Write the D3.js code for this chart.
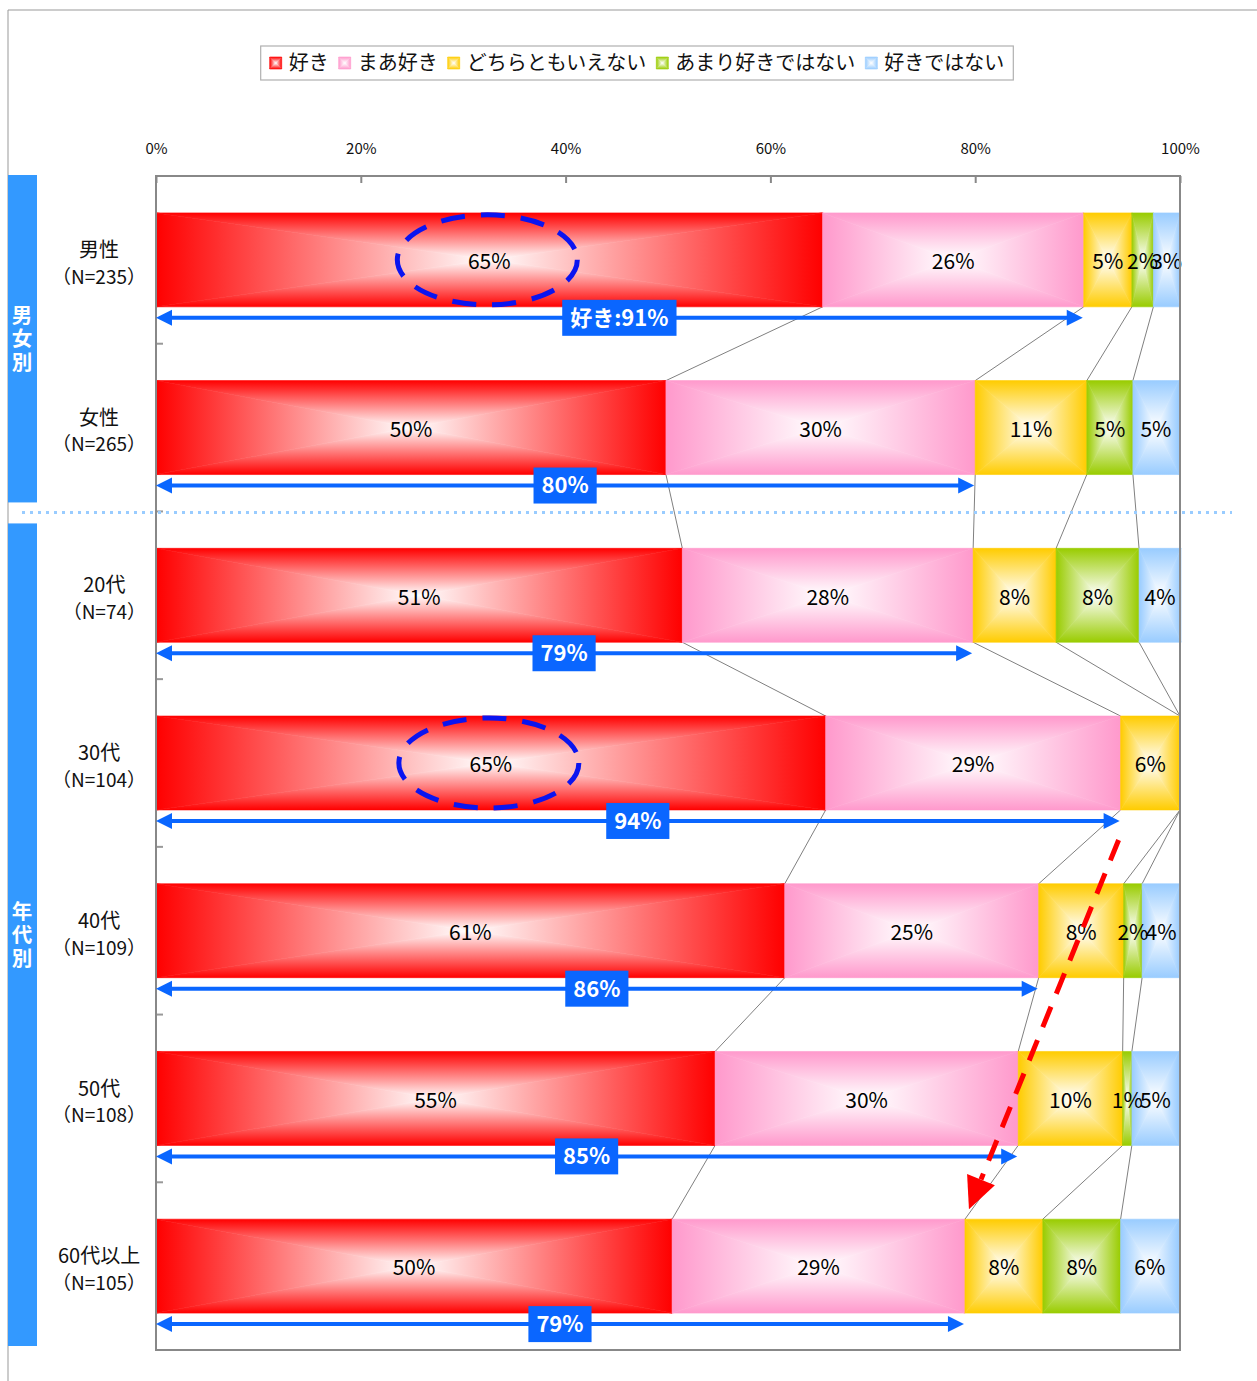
<!DOCTYPE html>
<html>
<head>
<meta charset="utf-8">
<script src="https://cdn.jsdelivr.net/npm/d3@7"></script>
<style>
  body { margin: 0; background: #fff; }
  svg text { font-family: "Noto Sans CJK JP", "Noto Sans", sans-serif; }
</style>
</head>
<body>
<svg id="chart" width="1257" height="1381"></svg>
<script>
// categories and sample sizes
const categories = ["男性", "女性", "20代", "30代", "40代", "50代", "60代以上"];
const sampleSizes = ["（N=235）", "（N=265）", "（N=74）", "（N=104）", "（N=109）", "（N=108）", "（N=105）"];
const seriesNames = ["好き", "まあ好き", "どちらともいえない", "あまり好きではない", "好きではない"];

// percentages per series
const like          = [65.1, 49.8, 51.4, 65.4, 61.4, 54.6, 50.4];
const ratherLike    = [25.5, 30.2, 28.4, 28.8, 24.8, 29.6, 28.6];
const neutral       = [4.7, 10.9, 8.1, 5.8, 8.3, 10.2, 7.6];
const ratherDislike = [2.1, 4.5, 8.1, 0, 1.8, 0.9, 7.6];
const dislike       = [2.6, 4.5, 4.1, 0, 3.7, 4.6, 5.7];

const tickValues = [0, 20, 40, 60, 80, 100];
const groupNames = ["男女別", "年代別"];
const groupRows = [["男性", "女性"], ["20代", "30代", "40代", "50代", "60代以上"]];
const circledRows = ["男性", "30代"];
const trendFrom = "30代", trendTo = "60代以上";

const colors = ["#FF0000", "#FF99CC", "#FFCC00", "#99CC00", "#99CCFF"];
const series = [like, ratherLike, neutral, ratherDislike, dislike];

const svg = d3.select("#chart");
const margin = {top: 176, right: 77, bottom: 31, left: 156};
const W = 1257, H = 1381;

const x = d3.scaleLinear().domain([0, 100]).range([margin.left, W - margin.right]);
const y = d3.scaleBand().domain(categories).range([margin.top, H - margin.bottom])
    .paddingInner(0.44).paddingOuter(0.22);
const step = y.step();

// stacked data
const rows = categories.map((c, i) => {
    let acc = 0;
    const segs = series.map((s, k) => {
        const seg = {k: k, v: s[i], x0: acc, x1: acc + s[i]};
        acc += s[i];
        return seg;
    });
    return {cat: c, n: sampleSizes[i], segs: segs};
});

// gradients: "rectangle from centre" look made of four triangles
const defs = svg.append("defs");
colors.forEach((col, k) => {
    const dirs = {l: [0, 0, 1, 0], r: [1, 0, 0, 0], t: [0, 0, 0, 1], b: [0, 1, 0, 0]};
    Object.keys(dirs).forEach(side => {
        const d = dirs[side];
        const g = defs.append("linearGradient").attr("id", "g" + k + side)
            .attr("x1", d[0]).attr("y1", d[1]).attr("x2", d[2]).attr("y2", d[3]);
        g.append("stop").attr("offset", "0%").attr("stop-color", col);
        g.append("stop").attr("offset", "100%").attr("stop-color", "#fff");
    });
});

function boxFill(parent, bx, by, w, h, k) {
    const cx = bx + w / 2, cy = by + h / 2;
    const parts = [
        ["l", [[bx, by], [bx, by + h], [cx, cy]]],
        ["r", [[bx + w, by], [bx + w, by + h], [cx, cy]]],
        ["t", [[bx, by], [bx + w, by], [cx, cy]]],
        ["b", [[bx, by + h], [bx + w, by + h], [cx, cy]]]
    ];
    parts.forEach(p => {
        parent.append("polygon")
            .attr("points", p[1].map(q => q.join(",")).join(" "))
            .attr("fill", "url(#g" + k + p[0] + ")")
            .attr("stroke", "url(#g" + k + p[0] + ")")
            .attr("stroke-width", 0.6);
    });
}

// outer frame
svg.append("path").attr("d", `M8,${H}V10H${W}`).attr("fill", "none").attr("stroke", "#999").attr("stroke-width", 1);

// legend
const legend = svg.append("g");
const legendBox = legend.append("rect").attr("fill", "#fff").attr("stroke", "#b0b0b0").attr("stroke-width", 1.2);
let lx = 0;
seriesNames.forEach((name, k) => {
    const g = legend.append("g");
    boxFill(g, lx, -6, 12, 12, k);
    const t = g.append("text").attr("x", lx + 19).attr("y", 0).attr("dy", "0.35em")
        .attr("font-size", 20).attr("fill", "#111").text(name);
    lx += 19 + t.node().getComputedTextLength() + 10;
});
const legendW = lx - 10;
const legendX = (256 + 1018) / 2 - legendW / 2;
legend.attr("transform", `translate(${legendX},63)`);
legendBox.attr("x", -9).attr("y", -17).attr("width", legendW + 18).attr("height", 34);

// top axis labels
const axis = svg.append("g").attr("transform", `translate(0,${margin.top})`)
    .call(d3.axisTop(x).tickValues(tickValues).tickFormat(d => d + "%").tickSizeInner(-7).tickSizeOuter(0).tickPadding(22));
axis.select(".domain").remove();
axis.selectAll("line").attr("stroke", "#888").attr("stroke-width", 2);
axis.selectAll("text").attr("font-size", 15).attr("fill", "#111")
    .style("font-family", '"Noto Sans CJK JP", sans-serif');

// left ticks at band boundaries
categories.slice(1).forEach(c => {
    const yy = y(c) - y.paddingInner() * step / 2;
    svg.append("line").attr("x1", margin.left).attr("x2", margin.left + 7)
        .attr("y1", yy).attr("y2", yy).attr("stroke", "#999").attr("stroke-width", 2);
});

// connector (series) lines
const connectors = svg.append("g");
for (let i = 0; i < rows.length - 1; i++) {
    const a = rows[i], b = rows[i + 1];
    for (let k = 0; k < 4; k++) {
        connectors.append("line")
            .attr("x1", x(a.segs[k].x1)).attr("y1", y(a.cat) + y.bandwidth())
            .attr("x2", x(b.segs[k].x1)).attr("y2", y(b.cat))
            .attr("stroke", "#808080").attr("stroke-width", 1);
    }
}

// bars
const bars = svg.append("g");
rows.forEach(r => {
    r.segs.forEach(s => {
        if (s.v <= 0) return;
        boxFill(bars, x(s.x0), y(r.cat), x(s.x1) - x(s.x0), y.bandwidth(), s.k);
    });
});

// value labels
rows.forEach(r => {
    r.segs.forEach(s => {
        if (s.v <= 0) return;
        bars.append("text")
            .attr("x", (x(s.x0) + x(s.x1)) / 2)
            .attr("y", y(r.cat) + y.bandwidth() / 2 + 2)
            .attr("dy", "0.35em").attr("text-anchor", "middle")
            .attr("font-size", 21).attr("fill", "#000")
            .text(Math.round(s.v) + "%");
    });
});

// plot frame
svg.append("rect").attr("x", x(0)).attr("y", margin.top)
    .attr("width", x(100) - x(0)).attr("height", H - margin.bottom - margin.top)
    .attr("fill", "none").attr("stroke", "#888").attr("stroke-width", 2);

// dashed ellipses around the highlighted like values
circledRows.forEach(c => {
    const r = rows[categories.indexOf(c)];
    svg.append("ellipse")
        .attr("cx", (x(r.segs[0].x0) + x(r.segs[0].x1)) / 2 - 2)
        .attr("cy", y(c) + y.bandwidth() / 2)
        .attr("rx", 90).attr("ry", 45)
        .attr("fill", "none").attr("stroke", "#0A14F0").attr("stroke-width", 5)
        .attr("stroke-dasharray", "24,16");
});

// double arrows for like + rather like
const blue = "#0A66FF";
const arrowY = c => y(c) + y.bandwidth() + 11;
rows.forEach((r, i) => {
    const x0 = x(0), x1 = x(r.segs[1].x1) - 1, ay = arrowY(r.cat);
    const g = svg.append("g");
    g.append("line").attr("x1", x0 + 12).attr("x2", x1 - 12).attr("y1", ay).attr("y2", ay)
        .attr("stroke", blue).attr("stroke-width", 4);
    g.append("path").attr("d", `M${x0},${ay}L${x0 + 16},${ay - 8}L${x0 + 16},${ay + 8}Z`).attr("fill", blue);
    g.append("path").attr("d", `M${x1},${ay}L${x1 - 16},${ay - 8}L${x1 - 16},${ay + 8}Z`).attr("fill", blue);
    const total = Math.round(r.segs[0].v) + Math.round(r.segs[1].v);
    const label = (i === 0 ? "好き:" : "") + total + "%";
    const cx = (x0 + x1) / 2;
    const box = g.append("rect").attr("fill", blue);
    const t = g.append("text").attr("x", cx).attr("y", ay).attr("dy", "0.36em")
        .attr("text-anchor", "middle").attr("font-size", 22).attr("font-weight", "bold")
        .attr("fill", "#fff").text(label);
    const tw = t.node().getComputedTextLength();
    box.attr("x", cx - tw / 2 - 8).attr("y", ay - 18).attr("width", tw + 16).attr("height", 36);
});

// red dashed trend arrow
const fr = rows[categories.indexOf(trendFrom)], to = rows[categories.indexOf(trendTo)];
const sx = x(fr.segs[1].x1) - 2, sy = arrowY(trendFrom) + 19;
const tx = x(to.segs[1].x1) + 4, ty = y(trendTo) - 10;
const ang = Math.atan2(ty - sy, tx - sx);
const headL = 32, headW = 15;
const bx = tx - headL * Math.cos(ang), by = ty - headL * Math.sin(ang);
svg.append("line").attr("x1", sx).attr("y1", sy).attr("x2", bx).attr("y2", by)
    .attr("stroke", "#FF0000").attr("stroke-width", 5).attr("stroke-dasharray", "22,14");
svg.append("path")
    .attr("d", `M${tx},${ty}L${bx + headW * Math.sin(ang)},${by - headW * Math.cos(ang)}L${bx - headW * Math.sin(ang)},${by + headW * Math.cos(ang)}Z`)
    .attr("fill", "#FF0000");

// group strips on the left
const stripG = svg.append("g");
groupRows.forEach((g, gi) => {
    const last = gi === groupRows.length - 1;
    const top = gi === 0 ? y(g[0]) - y.paddingOuter() * step : y(g[0]) - y.paddingInner() * step / 2;
    const bottom = last ? y(g[g.length - 1]) + y.bandwidth() + y.paddingOuter() * step
                        : y(g[g.length - 1]) + y.bandwidth() + y.paddingInner() * step / 2;
    const t0 = top + (gi === 0 ? -1 : 12), b0 = bottom - (last ? 4 : 9);
    stripG.append("rect").attr("x", 8).attr("y", t0).attr("width", 29).attr("height", b0 - t0).attr("fill", "#3399FF");
    const chars = groupNames[gi].split("");
    const mid = (t0 + b0) / 2;
    chars.forEach((ch, j) => {
        stripG.append("text").attr("x", 22).attr("y", mid + (j - (chars.length - 1) / 2) * 23.5)
            .attr("dy", "0.36em").attr("text-anchor", "middle").attr("font-size", 20.5)
            .attr("font-weight", "bold").attr("fill", "#fff").text(ch);
    });
});

// dotted separator between the groups
const sepY = y(groupRows[1][0]) - y.paddingInner() * step / 2 + 1;
svg.append("line").attr("x1", 22).attr("x2", 1232).attr("y1", sepY).attr("y2", sepY)
    .attr("stroke", "#99CCFF").attr("stroke-width", 3).attr("stroke-dasharray", "3,5");

// category labels (right aligned block, centred lines)
rows.forEach(r => {
    const cy = y(r.cat) + y.bandwidth() / 2;
    const g = svg.append("g");
    const t1 = g.append("text").attr("y", cy - 10).attr("dy", "0.36em").attr("text-anchor", "middle")
        .attr("font-size", 20).attr("fill", "#111").text(r.cat);
    const t2 = g.append("text").attr("y", cy + 17).attr("dy", "0.36em").attr("text-anchor", "middle")
        .attr("font-size", 19).attr("fill", "#111").text(r.n);
    const w = Math.max(t1.node().getComputedTextLength(), t2.node().getComputedTextLength());
    const cx = 146 - w / 2;
    t1.attr("x", cx);
    t2.attr("x", cx);
});
</script>
</body>
</html>
